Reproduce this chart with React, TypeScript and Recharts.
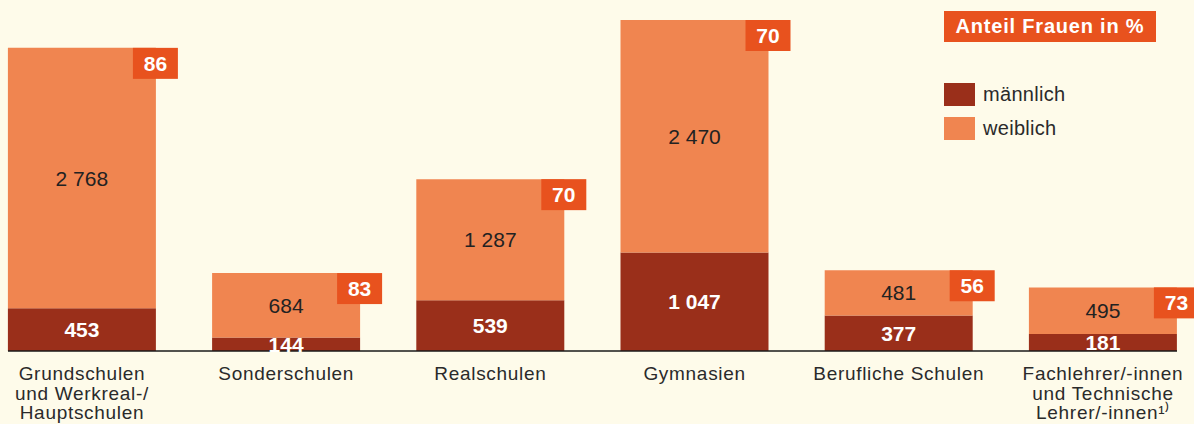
import { BarChart, Bar, XAxis, YAxis, LabelList } from "recharts";

const categories = [
  ["Grundschulen", "und Werkreal-/", "Hauptschulen"],
  ["Sonderschulen"],
  ["Realschulen"],
  ["Gymnasien"],
  ["Berufliche Schulen"],
  ["Fachlehrer/-innen", "und Technische", "Lehrer/-innen"],
];
const footnotes = ["", "", "", "", "", "\u00B9\u207E"];
const maleValues = [453, 144, 539, 1047, 377, 181];
const femaleValues = [2768, 684, 1287, 2470, 481, 495];
const shareWomen = [86, 83, 70, 70, 56, 73];

const BG = "#FEFBEA";
const MALE = "#9A2F1A";
const FEMALE = "#F08550";
const BOX = "#E8521E";
const FONT = "'Liberation Sans', Arial, sans-serif";

const data = categories.map((c, i) => ({
  idx: i,
  männlich: maleValues[i],
  weiblich: femaleValues[i],
  share: shareWomen[i],
}));

const fmt = (v: number) => String(v).replace(/\B(?=(\d{3})+(?!\d))/g, " ");

function CategoryTick(props: any) {
  const { x, y, payload } = props;
  const lines = categories[payload.value] || [];
  const note = footnotes[payload.value];
  return (
    <text
      x={x}
      y={y}
      textAnchor="middle"
      fontFamily={FONT}
      fontSize={19}
      letterSpacing={0.7}
      fill="#2a2a2a"
    >
      {lines.map((line, i) => (
        <tspan key={i} x={x} y={y + 29 + i * 19.5}>
          {i === lines.length - 1 ? line + note : line}
        </tspan>
      ))}
    </text>
  );
}

function ShareBox(props: any) {
  const { x, y, width, value } = props;
  const bx = x + width - 23;
  return (
    <g>
      <rect x={bx} y={y} width={45} height={31} fill={BOX} />
      <text
        x={bx + 22.5}
        y={y + 23}
        textAnchor="middle"
        fontFamily={FONT}
        fontWeight="bold"
        fontSize={21}
        fill="#fff"
      >
        {value}
      </text>
    </g>
  );
}

export default function App() {
  return (
    <div style={{ position: "relative", width: 1194, height: 424, background: BG }}>
      <style>{`body{margin:0}`}</style>
      <BarChart
        width={1194}
        height={424}
        data={data}
        margin={{ top: 20, right: 17, bottom: 0, left: 8 }}
      >
        <XAxis
          dataKey="idx"
          type="number"
          domain={[-0.3624, 5.3624]}
          ticks={[0, 1, 2, 3, 4, 5]}
          height={73}
          tickLine={false}
          tickSize={0}
          tickMargin={0}
          axisLine={{ stroke: "#1a1a1a", strokeWidth: 1.5 }}
          tick={<CategoryTick />}
          interval={0}
        />
        <YAxis hide domain={[0, 3517]} />
        <Bar dataKey="männlich" stackId="a" fill={MALE} barSize={148} isAnimationActive={false}>
          <LabelList
            dataKey="männlich"
            position="center"
            formatter={(v: any) => fmt(Number(v))}
            fill="#fff"
            fontFamily={FONT}
            fontWeight="bold"
            fontSize={21}
          />
        </Bar>
        <Bar dataKey="weiblich" stackId="a" fill={FEMALE} barSize={148} isAnimationActive={false}>
          <LabelList
            dataKey="weiblich"
            position="center"
            formatter={(v: any) => fmt(Number(v))}
            fill="#222"
            fontFamily={FONT}
            fontSize={21}
          />
          <LabelList dataKey="share" content={<ShareBox />} />
        </Bar>
      </BarChart>
      <div style={{ position: "absolute", left: 944, top: 11, fontFamily: FONT }}>
        <div
          style={{
            background: BOX,
            color: "#fff",
            fontWeight: "bold",
            fontSize: 20,
            letterSpacing: 0.8,
            width: 212,
            height: 31,
            lineHeight: "31px",
            textAlign: "center",
          }}
        >
          Anteil Frauen in %
        </div>
        {[
          ["männlich", MALE],
          ["weiblich", FEMALE],
        ].map(([name, color], i) => (
          <div
            key={name}
            style={{
              position: "absolute",
              left: 0,
              top: 72 + i * 34,
              display: "flex",
              alignItems: "center",
              fontSize: 20,
              letterSpacing: 0.3,
              color: "#2a2a2a",
              whiteSpace: "nowrap",
            }}
          >
            <span style={{ width: 31, height: 23, background: color, display: "inline-block", marginRight: 8 }} />
            {name}
          </div>
        ))}
      </div>
    </div>
  );
}
